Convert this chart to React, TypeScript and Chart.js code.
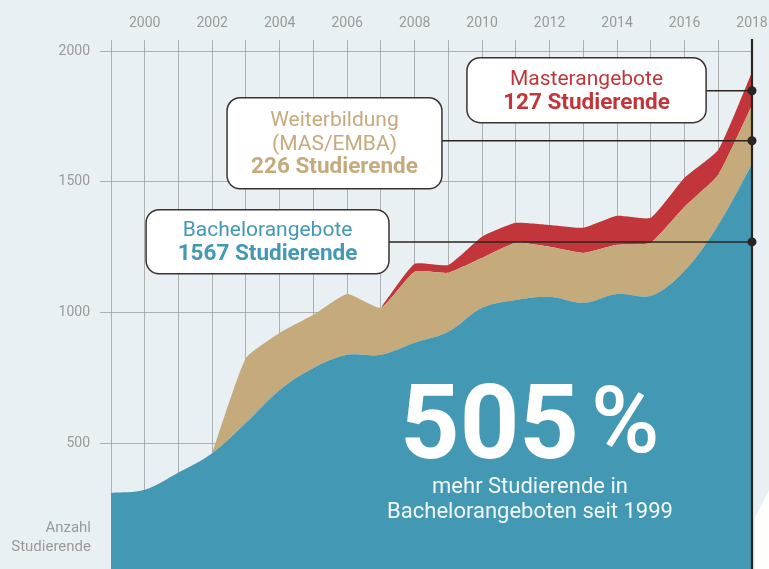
import React, { useEffect, useRef } from "react";
import { Chart, registerables } from "chart.js";

Chart.register(...registerables);

const years = [1999, 2000, 2001, 2002, 2003, 2004, 2005, 2006, 2007, 2008, 2009, 2010, 2011, 2012, 2013, 2014, 2015, 2016, 2017, 2018];
const bachelor = [310, 322, 388, 462, 578, 704, 788, 838, 838, 884, 926, 1018, 1048, 1060, 1037, 1071, 1064, 1160, 1335, 1567];
const weiterbildung = [null, null, null, 0, 248, 218, 203, 233, 180, 272, 226, 191, 219, 191, 191, 188, 203, 244, 192, 226];
const master = [null, null, null, null, null, null, null, null, 0, 30, 30, 81, 76, 84, 96, 111, 95, 111, 95, 127];
const yTicks = [0, 500, 1000, 1500, 2000];

const BLUE = "#4398b3";
const TAN = "#c5aa7c";
const RED = "#c2363b";
const DARK = "#2b2421";
const GRAY_TEXT = "#9a9a9a";
const FONT = "Roboto";

// callouts, in data units (year, value)
const callouts = [
  { x0: 2009.55, x1: 2016.64, yTop: 1974, yBot: 1726, lineY: 1848, color: RED, lines: [["Masterangebote", false], ["127 Studierende", true]] },
  { x0: 2002.44, x1: 2008.81, yTop: 1821, yBot: 1473, lineY: 1657, color: TAN, lines: [["Weiterbildung", false], ["(MAS/EMBA)", false], ["226 Studierende", true]] },
  { x0: 2000.04, x1: 2007.24, yTop: 1393, yBot: 1148, lineY: 1270, color: BLUE, lines: [["Bachelorangebote", false], ["1567 Studierende", true]] },
];

function roundRect(ctx: CanvasRenderingContext2D, x: number, y: number, w: number, h: number, r: number) {
  ctx.beginPath();
  ctx.moveTo(x + r, y);
  ctx.lineTo(x + w - r, y);
  ctx.arcTo(x + w, y, x + w, y + r, r);
  ctx.lineTo(x + w, y + h - r);
  ctx.arcTo(x + w, y + h, x + w - r, y + h, r);
  ctx.lineTo(x + r, y + h);
  ctx.arcTo(x, y + h, x, y + h - r, r);
  ctx.lineTo(x, y + r);
  ctx.arcTo(x, y, x + r, y, r);
  ctx.closePath();
}

const decor = {
  id: "decor",
  afterDraw(chart: any) {
    const ctx: CanvasRenderingContext2D = chart.ctx;
    const xs = chart.scales.x;
    const ys = chart.scales.y;
    const ca = chart.chartArea;
    ctx.save();

    // white corner decoration
    ctx.fillStyle = "#ffffff";
    ctx.beginPath();
    ctx.moveTo(ca.right + 3, chart.height);
    ctx.lineTo(ca.right + 3, ys.getPixelForValue(215));
    ctx.lineTo(chart.width, ys.getPixelForValue(320));
    ctx.lineTo(chart.width, chart.height);
    ctx.closePath();
    ctx.fill();

    // dark 2018 line
    const xr = xs.getPixelForValue(2018);
    ctx.strokeStyle = DARK;
    ctx.lineWidth = 2.2;
    ctx.beginPath();
    ctx.moveTo(xr, ca.top - 12);
    ctx.lineTo(xr, chart.height);
    ctx.stroke();

    // callouts
    for (const c of callouts) {
      const left = xs.getPixelForValue(c.x0);
      const right = xs.getPixelForValue(c.x1);
      const top = ys.getPixelForValue(c.yTop);
      const bot = ys.getPixelForValue(c.yBot);
      const ly = ys.getPixelForValue(c.lineY);
      ctx.strokeStyle = DARK;
      ctx.lineWidth = 1.5;
      ctx.beginPath();
      ctx.moveTo(right, ly);
      ctx.lineTo(xr, ly);
      ctx.stroke();
      ctx.fillStyle = DARK;
      ctx.beginPath();
      ctx.arc(xr, ly, 4.5, 0, Math.PI * 2);
      ctx.fill();

      roundRect(ctx, left, top, right - left, bot - top, 13);
      ctx.fillStyle = "#ffffff";
      ctx.fill();
      ctx.strokeStyle = "#3a3330";
      ctx.lineWidth = 1.5;
      ctx.stroke();

      const cx = (left + right) / 2;
      const cy = (top + bot) / 2;
      const lh = 23.5;
      const n = c.lines.length;
      ctx.fillStyle = c.color;
      ctx.textAlign = "center";
      ctx.textBaseline = "middle";
      c.lines.forEach((ln: any, i: number) => {
        ctx.font = ln[1] ? `bold 22.5px ${FONT}` : `21px ${FONT}`;
        ctx.fillText(ln[0], cx, cy + (i - (n - 1) / 2) * lh + 1);
      });
    }

    // big statement
    const bx = xs.getPixelForValue(2011.42);
    ctx.fillStyle = "#ffffff";
    ctx.textBaseline = "alphabetic";
    ctx.font = `bold 104px ${FONT}`;
    ctx.textAlign = "left";
    ctx.fillText("505", bx - 130, 458);
    ctx.font = `500 93px ${FONT}`;
    ctx.fillText("%", bx + 61, 452);
    ctx.fillStyle = "rgba(255,255,255,0.93)";
    ctx.font = `22px ${FONT}`;
    ctx.textAlign = "center";
    ctx.textBaseline = "middle";
    ctx.fillText("mehr Studierende in", bx, 487);
    ctx.fillText("Bachelorangeboten seit 1999", bx, 512);

    // axis title
    ctx.fillStyle = GRAY_TEXT;
    ctx.font = `15px ${FONT}`;
    ctx.textAlign = "right";
    ctx.fillText("Anzahl", ca.left - 20, ys.getPixelForValue(175));
    ctx.fillText("Studierende", ca.left - 20, ys.getPixelForValue(103));

    ctx.restore();
  },
};

export default function App() {
  const ref = useRef<HTMLCanvasElement>(null);
  useEffect(() => {
    if (!ref.current) return;
    const chart = new Chart(ref.current, {
      type: "line",
      data: {
        labels: years,
        datasets: [
          { label: "Bachelorangebote", data: years.map((y, i) => ({ x: y, y: bachelor[i] })), backgroundColor: BLUE, borderWidth: 0, pointRadius: 0, fill: "origin", tension: 0.35 },
          { label: "Weiterbildung", data: years.map((y, i) => ({ x: y, y: weiterbildung[i] })), backgroundColor: TAN, borderWidth: 0, pointRadius: 0, fill: "-1", tension: 0.15 },
          { label: "Masterangebote", data: years.map((y, i) => ({ x: y, y: master[i] })), backgroundColor: RED, borderWidth: 0, pointRadius: 0, fill: "-1", tension: 0.15 },
        ] as any,
      },
      options: {
        animation: false,
        responsive: false,
        devicePixelRatio: 1,
        layout: { padding: { top: 0, left: 0, right: 17, bottom: 6 } },
        plugins: { legend: { display: false }, tooltip: { enabled: false } },
        scales: {
          x: {
            type: "linear",
            position: "top",
            min: 1999,
            max: 2018,
            afterFit: (s: any) => { s.height = 51; s.paddingLeft = 0; s.paddingRight = 0; s.paddingTop = 0; s.paddingBottom = 0; },
            border: { display: false },
            grid: { color: "rgba(150,150,150,0.7)", lineWidth: 1, tickLength: 11 },
            ticks: {
              stepSize: 1,
              autoSkip: false,
              maxRotation: 0,
              padding: 8,
              color: GRAY_TEXT,
              font: { family: FONT, size: 14 },
              callback: (v: any) => (Number(v) % 2 === 0 ? String(v) : ""),
            },
          },
          y: {
            stacked: true,
            min: 0,
            max: 2000,
            afterFit: (s: any) => { s.width = 111; s.paddingLeft = 0; s.paddingRight = 0; s.paddingTop = 0; s.paddingBottom = 0; },
            afterBuildTicks: (s: any) => { s.ticks = yTicks.map((v) => ({ value: v })); },
            border: { display: false },
            grid: { color: "rgba(150,150,150,0.7)", lineWidth: 1, tickLength: 11 },
            ticks: {
              padding: 10,
              color: GRAY_TEXT,
              font: { family: FONT, size: 14 },
              callback: (v: any) => (Number(v) === 0 ? "" : String(v)),
            },
          },
        },
      } as any,
      plugins: [decor],
    });
    return () => chart.destroy();
  }, []);
  return (
    <div style={{ position: "fixed", left: 0, top: 0, width: 769, height: 580, background: "#e8f0f4" }}>
      <canvas ref={ref} width={769} height={580} style={{ display: "block" }} />
    </div>
  );
}
